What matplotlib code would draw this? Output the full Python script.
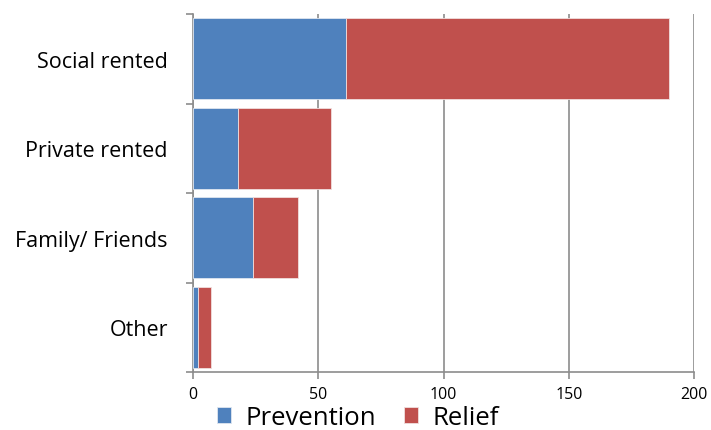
import matplotlib
matplotlib.use("Agg")
import matplotlib.pyplot as plt
import numpy as np

categories = ["Social rented", "Private rented", "Family/ Friends", "Other"]
prevention = [61, 18, 24, 2]
relief = [129, 37, 18, 5]
series_names = ["Prevention", "Relief"]
colors = ["#4F81BD", "#C0504D"]
xticks = [0, 50, 100, 150, 200]

plt.rcParams['font.family'] = ['Open Sans', 'DejaVu Sans']

fig = plt.figure(figsize=(7.11, 4.31), dpi=100)
ax = fig.add_axes([193/711, 1-373/431, (694-193)/711, (373-15)/431])

y = np.arange(len(categories))
h = 0.91
ax.barh(y, prevention, height=h, color=colors[0], label=series_names[0],
        edgecolor="#dfe6f0", linewidth=0.6, zorder=3)
ax.barh(y, relief, left=prevention, height=h, color=colors[1], label=series_names[1],
        edgecolor="#f0dede", linewidth=0.6, zorder=3)

ax.set_ylim(len(categories)-0.5, -0.5)
ax.set_xlim(0, 200)
ax.set_xticks(xticks)
ax.set_xticklabels([str(t) for t in xticks], fontsize=11.5)
ax.set_yticks(y)
ax.set_yticklabels(categories, fontsize=15.5)
ax.set_yticks(np.arange(-0.5, len(categories)), minor=True)
ax.tick_params(axis='y', which='major', length=0, pad=18)
ax.tick_params(axis='y', which='minor', length=5, color="#8c8c8c", width=1.2)
ax.tick_params(axis='x', length=5, color="#8c8c8c", width=1.2, pad=5)

ax.grid(axis='x', color="#8c8c8c", linewidth=1.2, zorder=0)
for s in ['top', 'right']:
    ax.spines[s].set_visible(False)
for s in ['left', 'bottom']:
    ax.spines[s].set_color("#8c8c8c")
    ax.spines[s].set_linewidth(1.2)

fig.legend(loc='lower center', bbox_to_anchor=(358/711, 0.0), ncol=2,
           frameon=False, fontsize=18.5, handlelength=0.55, handleheight=0.55,
           handletextpad=0.55, columnspacing=1.1, borderpad=0.0, borderaxespad=0.0)

fig.savefig("out.png", dpi=100)
